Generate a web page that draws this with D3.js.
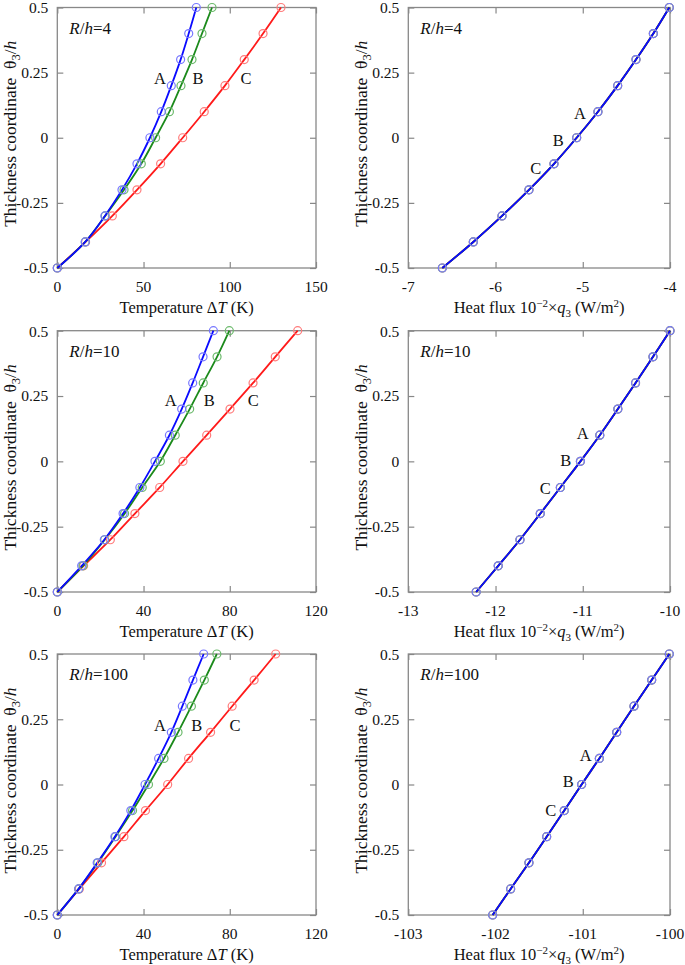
<!DOCTYPE html>
<html><head><meta charset="utf-8">
<script src="https://cdn.jsdelivr.net/npm/d3@7"></script>
<style>body{margin:0;background:#fff}svg{display:block}text{font-family:"Liberation Serif","Times New Roman",serif;fill:#111}</style>
</head><body><svg id="c" width="685" height="965"></svg>
<script>
// ---------- DATA ----------
const theta = [-0.5,-0.4,-0.3,-0.2,-0.1,0,0.1,0.2,0.3,0.4,0.5];
const seriesNames = ["A","B","C"];
const ratios = [4,10,100];

const tempA_R4 = [0,16.2,27.6,37.5,46.2,53.7,60.3,66.1,71.5,76.2,80.6];
const tempB_R4 = [0,16.2,27.8,38.7,48.7,57.0,65.0,71.7,78.1,83.9,89.7];
const tempC_R4 = [0,16.4,31.9,46.2,59.9,72.7,85.2,97.2,108.4,119.3,129.7];

const tempA_R10 = [0,11.3,21.8,30.5,38.3,45.3,52.0,57.7,62.8,67.6,72.4];
const tempB_R10 = [0,11.9,22.0,31.2,39.4,47.8,54.7,61.4,67.7,74.1,79.8];
const tempC_R10 = [0,12.2,24.6,36.0,47.5,58.3,69.3,80.1,90.8,101.1,111.5];

const tempA_R100 = [0,9.9,18.5,26.7,34.1,40.7,47.0,52.9,58.0,62.9,67.9];
const tempB_R100 = [0,9.9,18.8,27.0,34.9,42.3,49.5,56.0,62.2,68.2,74.0];
const tempC_R100 = [0,10.2,20.5,30.9,40.9,51.2,60.9,71.1,81.1,91.3,101.3];

const flux_R4 = [-6.610,-6.255,-5.926,-5.617,-5.330,-5.070,-4.826,-4.600,-4.390,-4.191,-4.008];
const flux_R10 = [-12.222,-11.969,-11.720,-11.487,-11.257,-11.027,-10.805,-10.598,-10.395,-10.195,-10.0];
const flux_R100 = [-102.033,-101.827,-101.617,-101.414,-101.212,-101.013,-100.810,-100.611,-100.413,-100.210,-100.008];

const yTicks = [-0.5,-0.25,0,0.25,0.5];
const tempTicks_R4 = [0,50,100,150];
const tempTicks = [0,40,80,120];
const fluxTicks_R4 = [-7,-6,-5,-4];
const fluxTicks_R10 = [-13,-12,-11,-10];
const fluxTicks_R100 = [-103,-102,-101,-100];

// label positions (data coords) for A, B, C
const labT_R4 = [[59.5,0.23],[81.6,0.23],[109.4,0.23]];
const labT_R10 = [[52.6,0.234],[70.5,0.234],[90.9,0.234]];
const labT_R100 = [[47.6,0.228],[64.7,0.228],[82.4,0.228]];
const labF_R4 = [[-5.031,0.093],[-5.280,-0.011],[-5.539,-0.118]];
const labF_R10 = [[-11.0,0.107],[-11.195,0.005],[-11.429,-0.101]];
const labF_R100 = [[-100.966,0.113],[-101.166,0.011],[-101.367,-0.097]];

// ---------- LAYOUT ----------
const colX = [[57.3,316],[408.3,670]];
const rowY = [[7.5,268],[330.7,592],[654,915]];
const lineCol = {A:"#0a0aff",B:"#1b8a1b",C:"#ff1a1a"};
const markCol = {A:"#7878ff",B:"#6cba6c",C:"#ff7c7c"};

const panels = [
  {c:0,r:0,kind:"T",R:ratios[0],xd:[0,150],xt:tempTicks_R4,s:[tempA_R4,tempB_R4,tempC_R4],lab:labT_R4},
  {c:1,r:0,kind:"F",R:ratios[0],xd:[-7,-4],xt:fluxTicks_R4,s:[flux_R4,flux_R4,flux_R4],lab:labF_R4},
  {c:0,r:1,kind:"T",R:ratios[1],xd:[0,120],xt:tempTicks,s:[tempA_R10,tempB_R10,tempC_R10],lab:labT_R10},
  {c:1,r:1,kind:"F",R:ratios[1],xd:[-13,-10],xt:fluxTicks_R10,s:[flux_R10,flux_R10,flux_R10],lab:labF_R10},
  {c:0,r:2,kind:"T",R:ratios[2],xd:[0,120],xt:tempTicks,s:[tempA_R100,tempB_R100,tempC_R100],lab:labT_R100},
  {c:1,r:2,kind:"F",R:ratios[2],xd:[-103,-100],xt:fluxTicks_R100,s:[flux_R100,flux_R100,flux_R100],lab:labF_R100}
];

const svg = d3.select("#c");
const fmt = d => d < 0 ? "-" + Math.abs(d) : String(d);
const frameCol = "#888";

panels.forEach(p => {
  const [x0,x1] = colX[p.c], [y0,y1] = rowY[p.r];
  const x = d3.scaleLinear().domain(p.xd).range([x0,x1]);
  const y = d3.scaleLinear().domain([-0.5,0.5]).range([y1,y0]);
  const g = svg.append("g");
  const tl = 6;

  // ticks (inside, all four sides) via axes
  const axB = d3.axisBottom(x).tickValues(p.xt).tickSize(-tl).tickFormat("");
  const axT = d3.axisTop(x).tickValues(p.xt).tickSize(-tl).tickFormat("");
  const axL = d3.axisLeft(y).tickValues(yTicks).tickSize(-tl).tickFormat("");
  const axR = d3.axisRight(y).tickValues(yTicks).tickSize(-tl).tickFormat("");
  [[axB,`translate(0,${y1})`],[axT,`translate(0,${y0})`],[axL,`translate(${x0},0)`],[axR,`translate(${x1},0)`]].forEach(([ax,tr])=>{
    const a = g.append("g").attr("transform",tr).call(ax);
    a.select(".domain").remove();
    a.selectAll("line").attr("stroke",frameCol).attr("stroke-width",1.2);
  });
  g.append("rect").attr("x",x0).attr("y",y0).attr("width",x1-x0).attr("height",y1-y0)
    .attr("fill","none").attr("stroke",frameCol).attr("stroke-width",1.3);

  // tick labels
  g.selectAll(".xl").data(p.xt).join("text").attr("x",d=>x(d)).attr("y",y1+24)
    .attr("text-anchor","middle").attr("font-size",15.5).text(fmt);
  g.selectAll(".yl").data(yTicks).join("text").attr("x",x0-9).attr("y",d=>Math.max(y(d),y0+0.5))
    .attr("dy","0.35em").attr("text-anchor","end").attr("font-size",15.5).text(fmt);

  // axis titles
  const xt = g.append("text").attr("x",(x0+x1)/2).attr("y",y1+45).attr("text-anchor","middle").attr("font-size",16.5);
  if (p.kind==="T") {
    xt.append("tspan").text("Temperature \u0394");
    xt.append("tspan").attr("font-style","italic").text("T");
    xt.append("tspan").text(" (K)");
  } else {
    xt.append("tspan").text("Heat flux 10");
    xt.append("tspan").attr("font-size",11).attr("dy",-6).text("\u22122");
    xt.append("tspan").attr("dy",6).text("\u00d7");
    xt.append("tspan").attr("font-style","italic").text("q");
    xt.append("tspan").attr("font-size",11).attr("dy",4).text("3");
    xt.append("tspan").attr("dy",-4).text(" (W/m");
    xt.append("tspan").attr("font-size",11).attr("dy",-6).text("2");
    xt.append("tspan").attr("dy",6).text(")");
  }
  const yc = (y0+y1)/2 - 4, yx = x0 - 41.5;
  const yt = g.append("text").attr("transform",`translate(${yx},${yc}) rotate(-90)`)
    .attr("text-anchor","middle").attr("font-size",17.5);
  yt.append("tspan").text("Thickness coordinate \u00a0\u03b8");
  yt.append("tspan").attr("font-size",12.5).attr("dy",4).text("3");
  yt.append("tspan").attr("dy",-4).text("/");
  yt.append("tspan").attr("font-style","italic").text("h");

  // R/h label
  const rl = g.append("text").attr("x",x0+12).attr("y",y0+26).attr("font-size",17);
  rl.append("tspan").attr("font-style","italic").text("R");
  rl.append("tspan").text("/");
  rl.append("tspan").attr("font-style","italic").text("h");
  rl.append("tspan").text("=" + p.R);

  // curves: draw C, B, A so A (blue) is on top
  const line = d3.line().x(d=>x(d[0])).y(d=>y(d[1])).curve(d3.curveCatmullRom);
  [2,1,0].forEach(i => {
    const name = seriesNames[i];
    const pts = theta.map((t,k)=>[p.s[i][k],t]);
    g.append("path").datum(pts).attr("d",line).attr("fill","none")
      .attr("stroke",lineCol[name]).attr("stroke-width",1.8);
  });
  [2,1,0].forEach(i => {
    const name = seriesNames[i];
    const pts = theta.map((t,k)=>[p.s[i][k],t]);
    g.selectAll(null).data(pts).join("circle").attr("cx",d=>x(d[0])).attr("cy",d=>y(d[1]))
      .attr("r",4).attr("fill","none").attr("stroke",markCol[name]).attr("stroke-width",1.2);
  });
  // A/B/C labels
  g.selectAll(null).data(p.lab).join("text").attr("x",d=>x(d[0])).attr("y",d=>y(d[1]))
    .attr("dy","0.35em").attr("text-anchor","middle").attr("font-size",16.5)
    .text((d,i)=>seriesNames[i]);
});
</script></body></html>
